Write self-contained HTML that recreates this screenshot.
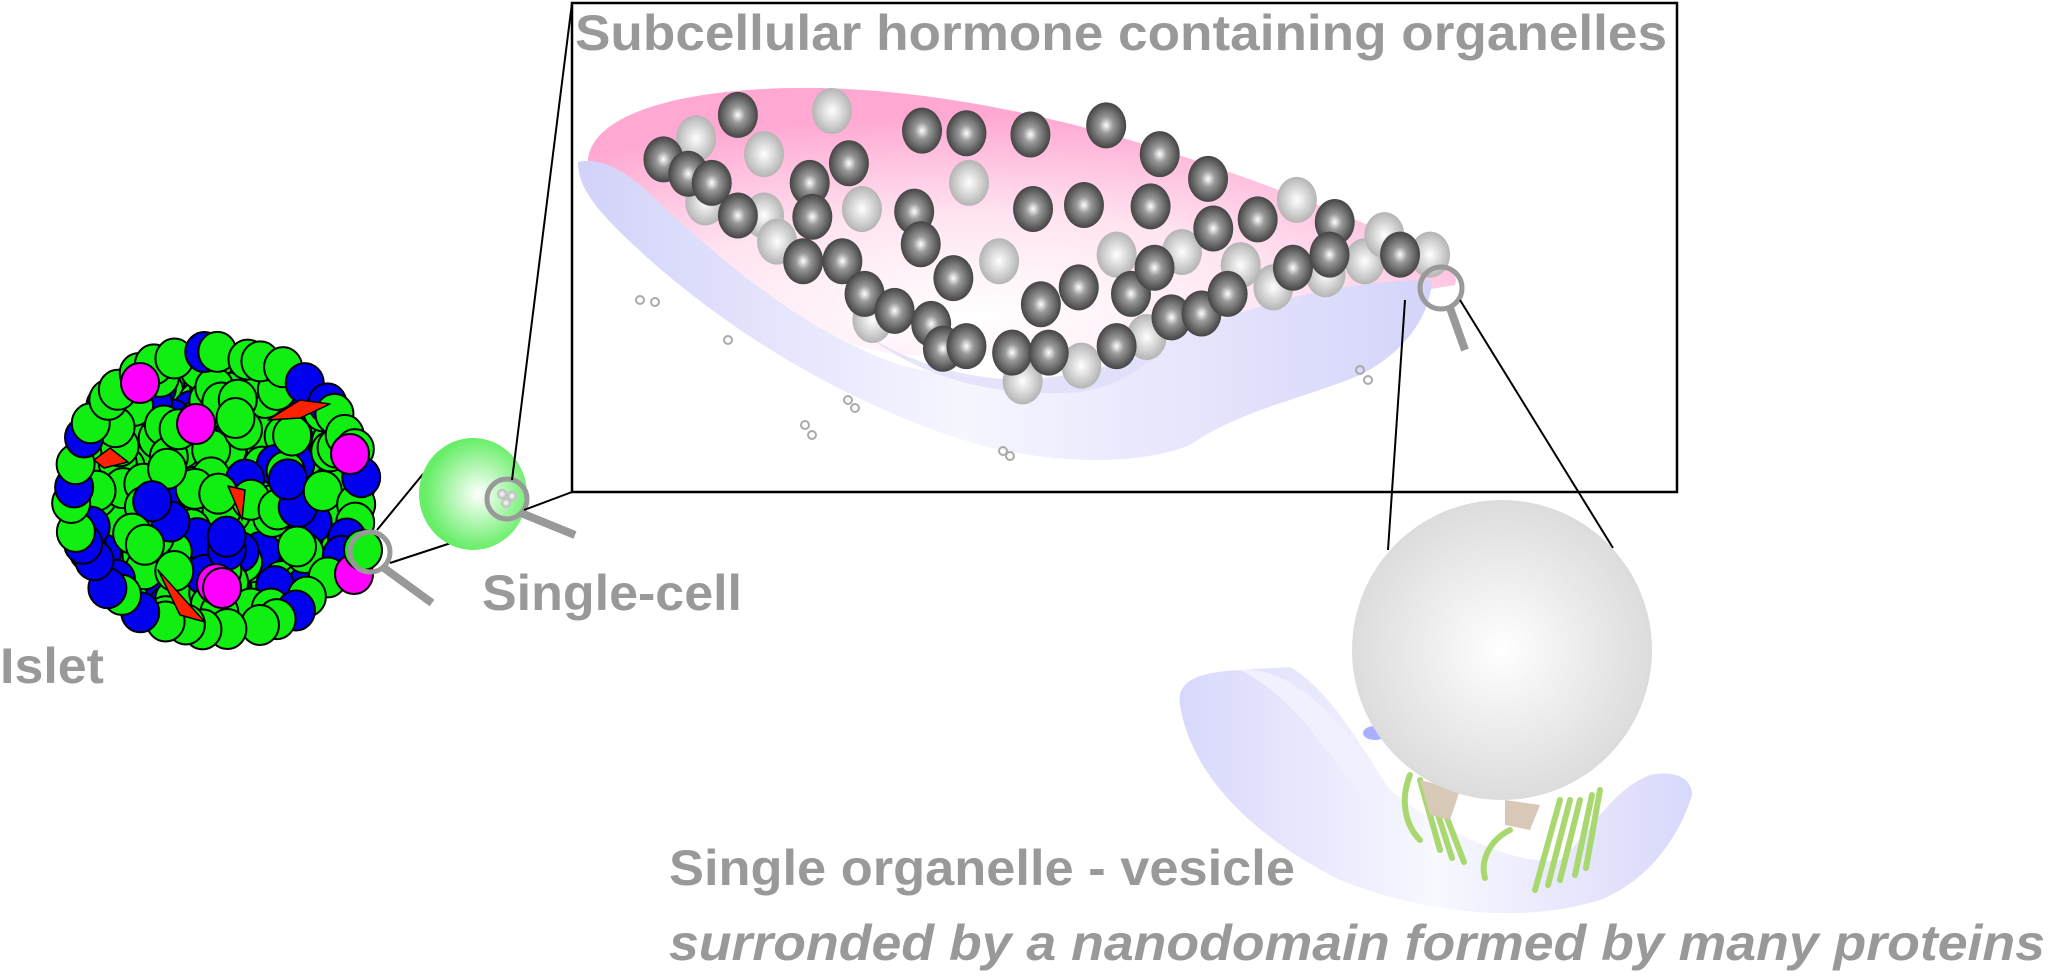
<!DOCTYPE html>
<html><head><meta charset="utf-8"><style>html,body{margin:0;padding:0;background:#fff;width:2048px;height:976px;overflow:hidden}</style></head>
<body>
<svg width="2048" height="976" viewBox="0 0 2048 976" xmlns="http://www.w3.org/2000/svg">
<defs>
<radialGradient id="dk" cx="0.5" cy="0.5" r="0.5"><stop offset="0" stop-color="#fff"/><stop offset="0.35" stop-color="#999"/><stop offset="1" stop-color="#444"/></radialGradient>
<radialGradient id="lt" cx="0.5" cy="0.5" r="0.5"><stop offset="0" stop-color="#fff"/><stop offset="1" stop-color="#b4b4b4"/></radialGradient>
<radialGradient id="big" cx="0.5" cy="0.5" r="0.5"><stop offset="0" stop-color="#fff"/><stop offset="1" stop-color="#dcdcdc"/></radialGradient>
<radialGradient id="gc" cx="0.55" cy="0.5" r="0.5"><stop offset="0" stop-color="#fff"/><stop offset="1" stop-color="#66ee66"/></radialGradient>
<radialGradient id="pk" cx="0.45" cy="0.85" r="0.75"><stop offset="0" stop-color="#fff"/><stop offset="0.5" stop-color="#ffe4f1"/><stop offset="1" stop-color="#ffa8d2"/></radialGradient>
<linearGradient id="bl" x1="0" y1="0" x2="1" y2="0"><stop offset="0" stop-color="#d2d2fa"/><stop offset="0.45" stop-color="#f6f6ff"/><stop offset="1" stop-color="#d4d4fa"/></linearGradient>
<linearGradient id="bl2" x1="0" y1="0" x2="1" y2="0"><stop offset="0" stop-color="#d8d8fb"/><stop offset="0.5" stop-color="#f8f8ff"/><stop offset="1" stop-color="#d8d8fb"/></linearGradient>
</defs>

<g stroke="#000" stroke-width="2" id="islet"></g>

<!-- islet magnifier -->
<circle cx="370" cy="552" r="20" fill="none" stroke="#999" stroke-width="5"/>
<line x1="384" y1="568" x2="432" y2="603" stroke="#999" stroke-width="8"/>
<line x1="377" y1="530" x2="423" y2="474" stroke="#000" stroke-width="2"/>
<line x1="390" y1="563" x2="451" y2="543" stroke="#000" stroke-width="2"/>

<!-- single cell -->
<ellipse cx="473" cy="494" rx="54" ry="56" fill="url(#gc)"/>
<circle cx="507" cy="499" r="20" fill="none" stroke="#999" stroke-width="5"/>
<circle cx="502" cy="494" r="5" fill="url(#lt)"/><circle cx="512" cy="496" r="5" fill="url(#lt)"/><circle cx="506" cy="503" r="5" fill="url(#lt)"/>
<line x1="521" y1="513" x2="575" y2="535" stroke="#999" stroke-width="8"/>
<line x1="512" y1="480" x2="572" y2="3" stroke="#000" stroke-width="2"/>
<line x1="524" y1="510" x2="572" y2="492" stroke="#000" stroke-width="2"/>

<!-- box -->
<rect x="572" y="3" width="1105" height="489" fill="none" stroke="#000" stroke-width="2.5"/>

<!-- pink -->
<path d="M588 168 C582 112 690 86 820 88 C1000 92 1180 150 1330 210 C1420 245 1462 262 1455 285 C1300 310 1150 360 900 355 C750 330 650 235 588 168 Z" fill="url(#pk)"/>
<!-- blue cup -->
<path d="M578 162 C595 158 615 165 640 185 C720 260 800 330 900 365 C1000 390 1080 380 1150 350 C1230 310 1330 280 1432 280 C1430 320 1400 355 1360 375 C1300 400 1240 410 1190 445 C1140 465 1060 465 980 445 C860 410 740 340 650 260 C600 215 578 190 578 162 Z" fill="url(#bl)"/>
<path d="M860 330 C900 360 960 378 1020 380 C1070 378 1120 365 1160 350 C1140 370 1120 385 1080 392 C1000 398 920 380 860 330 Z" fill="#dcdcfa" opacity="0.7"/>

<g id="sph"></g>

<!-- magnifier on box -->
<circle cx="1441" cy="288" r="21" fill="none" stroke="#999" stroke-width="5"/>
<line x1="1450" y1="308" x2="1465" y2="350" stroke="#999" stroke-width="8"/>
<line x1="1405" y1="300" x2="1388" y2="550" stroke="#000" stroke-width="2"/>
<line x1="1460" y1="300" x2="1613" y2="548" stroke="#000" stroke-width="2"/>

<!-- lower cup -->
<path d="M1180 705 C1176 680 1200 672 1240 670 L1290 667 C1330 690 1360 745 1390 790 C1440 830 1520 868 1560 860 C1590 835 1610 790 1650 775 C1675 770 1692 778 1692 795 C1680 835 1650 880 1600 900 C1520 925 1420 912 1340 880 C1260 840 1192 780 1180 705 Z" fill="url(#bl2)"/>
<path d="M1240 670 C1300 665 1350 735 1390 790 L1370 805 C1330 760 1300 700 1240 670 Z" fill="#f0f0ff"/>
<g stroke="#aad870" stroke-width="6" stroke-linecap="round" fill="none">
<path d="M1420 780 L1440 850"/><path d="M1430 790 L1452 858"/><path d="M1440 800 L1464 862"/><path d="M1410 775 C1400 800 1405 825 1420 840"/>
<path d="M1560 800 L1535 890"/><path d="M1570 800 L1548 885"/><path d="M1580 800 L1560 880"/><path d="M1592 795 L1575 875"/><path d="M1600 790 L1586 868"/>
<path d="M1510 830 C1490 840 1480 860 1485 878"/>
</g>
<path d="M1420 780 L1460 790 L1450 820 L1430 815 Z" fill="#d8c8b8"/>
<path d="M1505 800 L1540 805 L1530 830 L1505 825 Z" fill="#d8c8b8"/>
<ellipse cx="1375" cy="733" rx="12" ry="7" fill="#aab0ff"/>
<ellipse cx="1502" cy="650" rx="150" ry="150" fill="url(#big)"/>

<!-- text -->
<g font-family="Liberation Sans Narrow, Liberation Sans, sans-serif" font-weight="bold" fill="#999">
<text x="575" y="50" font-size="50" textLength="1092" lengthAdjust="spacingAndGlyphs">Subcellular hormone containing organelles</text>
<text x="0" y="683" font-size="50" textLength="104" lengthAdjust="spacingAndGlyphs">Islet</text>
<text x="482" y="610" font-size="50" textLength="260" lengthAdjust="spacingAndGlyphs">Single-cell</text>
<text x="669" y="885" font-size="50" textLength="626" lengthAdjust="spacingAndGlyphs">Single organelle - vesicle</text>
<text x="669" y="960" font-size="50" font-style="italic" textLength="1376" lengthAdjust="spacingAndGlyphs">surronded by a nanodomain formed by many proteins</text>
</g>

<script>
(function(){
var ns="http://www.w3.org/2000/svg";
var g=document.getElementById('islet');
var seed=11;function r(){seed=(seed*9301+49297)%233280;return seed/233280;}
function circ(x,y,f){var c=document.createElementNS(ns,'ellipse');c.setAttribute('cx',x);c.setAttribute('cy',y);c.setAttribute('rx',19);c.setAttribute('ry',20);c.setAttribute('fill',f);g.appendChild(c);}
for(var i=0;i<300;i++){
 var a=r()*Math.PI*2, d=Math.sqrt(r());
 var x=215+Math.cos(a)*d*142, y=492+Math.sin(a)*d*136;
 circ(x,y, r()<0.28?'#0000ee':'#11ee11');
}
for(var i=0;i<40;i++){var a=i/40*Math.PI*2+r()*0.1;circ(215+Math.cos(a)*(140+r()*8),492+Math.sin(a)*(134+r()*8), r()<0.3?'#0000ee':'#11ee11');}
[[140,383],[196,424],[350,454],[354,574],[216,584],[222,588]].forEach(function(p){circ(p[0],p[1],'#ff00ff');});
[[[268,420],[300,400],[330,404],[300,418]],[[94,460],[110,448],[128,462],[104,468]],[[228,486],[245,490],[242,520],[234,500]],[[158,570],[185,600],[205,622],[180,615]]].forEach(function(t){var p=document.createElementNS(ns,'path');p.setAttribute('d','M'+t[0]+' L'+t[1]+' L'+t[2]+' L'+t[3]+' Z');p.setAttribute('fill','#ff2200');p.setAttribute('stroke','#000');p.setAttribute('stroke-width','1.5');p.setAttribute('stroke-linejoin','round');g.appendChild(p);});
circ(363,550,'#11ee11');
var s=document.getElementById('sph');
var dk=[[565,88],[706,100],[740,102],[789,103],[847,96],[888,118],[925,137],[508,122],[527,133],[545,140],[620,140],[650,125],[622,166],[565,165],[700,162],[705,187],[791,160],[830,157],[881,158],[963,168],[1022,170],[615,200],[645,200],[662,225],[685,238],[713,248],[722,267],[740,265],[775,270],[803,270],[730,213],[797,233],[826,220],[866,225],[855,265],[897,243],[920,240],[940,225],[990,205],[1018,195],[929,175],[884,205],[1072,195]];
var lt=[[637,85],[533,106],[585,118],[742,140],[660,160],[540,155],[585,165],[595,185],[765,200],[855,195],[905,193],[993,153],[950,203],[975,220],[1015,210],[1045,200],[1060,180],[1095,195],[878,258],[828,280],[668,245],[783,292]];
function add(l,fill){l.forEach(function(p){var c=document.createElementNS(ns,'ellipse');c.setAttribute('cx',p[0]*1.306);c.setAttribute('cy',p[1]*1.306);c.setAttribute('rx',20);c.setAttribute('ry',23);c.setAttribute('fill',fill);s.appendChild(c);});}
add(lt,'url(#lt)');add(dk,'url(#dk)');
[[640,300],[655,302],[728,340],[805,425],[812,435],[1360,370],[1368,380],[1003,451],[1010,456],[848,400],[855,408]].forEach(function(p){var c=document.createElementNS(ns,'circle');c.setAttribute('cx',p[0]);c.setAttribute('cy',p[1]);c.setAttribute('r',4);c.setAttribute('fill','none');c.setAttribute('stroke','#aaa');c.setAttribute('stroke-width','2');s.appendChild(c);});
})();
</script>
</svg>
</body></html>
